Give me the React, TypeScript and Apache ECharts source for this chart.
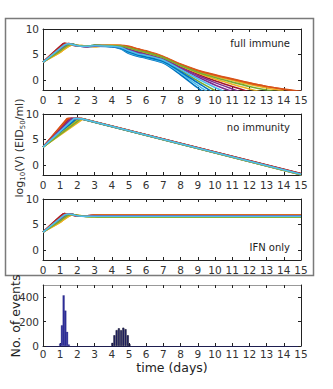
import React, { useEffect, useRef } from "react";
import * as echarts from "echarts";

const COLORS = ["#0072BD", "#D95319", "#EDB120", "#7E2F8E", "#77AC30", "#4DBEEE", "#A2142F"];

const X_TICKS = [0, 1, 2, 3, 4, 5, 6, 7, 8, 9, 10, 11, 12, 13, 14, 15];
const Y_TICKS_V = [0, 5, 10];
const Y_TICKS_H = [0, 200, 400];

// Panel 1: full immune
const T1 = [0, 1, 1.25, 1.5, 1.75, 2, 2.5, 3, 4, 4.5, 5, 5.5, 6, 7, 8, 9, 10, 11, 12, 13, 14, 15];
const FULL = [
  [3.5, 6.0, 6.65, 7.05, 6.95, 6.7, 6.5, 6.6, 6.5, 6.1, 5.2, 4.65, 4.25, 3.3, 1.0, -1.6, -4.0],
  [3.5, 6.6, 7.2, 7.05, 6.8, 6.65, 6.6, 6.7, 6.8, 6.8, 6.6, 6.1, 5.7, 4.6, 3.1, 1.9, 1.0, 0.2, -0.6, -1.3, -1.8, -2.3],
  [3.5, 5.4, 6.05, 6.6, 6.9, 6.8, 6.65, 6.5, 6.8, 6.75, 6.4, 5.95, 5.5, 4.45, 2.95, 1.7, 0.7, -0.1, -0.9, -1.6, -2.2],
  [3.5, 6.3, 6.95, 7.15, 6.9, 6.7, 6.55, 6.75, 6.7, 6.5, 5.8, 5.3, 4.9, 3.95, 2.25, 0.55, -1.0, -2.3],
  [3.5, 5.7, 6.35, 6.85, 7.0, 6.75, 6.6, 6.8, 6.7, 6.35, 5.55, 5.0, 4.65, 3.75, 1.85, -0.2, -2.1],
  [3.5, 6.0, 6.65, 7.0, 6.9, 6.7, 6.55, 6.6, 6.6, 6.2, 5.35, 4.8, 4.4, 3.45, 1.35, -1.1, -3.3],
  [3.5, 6.6, 7.2, 7.05, 6.8, 6.65, 6.6, 6.7, 6.7, 6.6, 6.05, 5.6, 5.15, 4.15, 2.55, 1.1, -0.2, -1.3, -2.4],
  [3.5, 5.7, 6.35, 6.85, 7.0, 6.75, 6.6, 6.8, 6.5, 6.25, 5.45, 4.9, 4.5, 3.6, 1.6, -0.6, -2.7],
  [3.5, 6.3, 6.95, 7.15, 6.9, 6.7, 6.55, 6.75, 6.8, 6.75, 6.5, 6.05, 5.6, 4.5, 3.0, 1.8, 0.9, 0.1, -0.65, -1.3, -1.9, -2.3],
  [3.5, 5.4, 6.05, 6.6, 6.9, 6.8, 6.65, 6.5, 6.8, 6.65, 6.2, 5.7, 5.3, 4.25, 2.7, 1.35, 0.15, -0.85, -1.8, -2.6],
  [3.5, 6.0, 6.65, 7.05, 6.95, 6.7, 6.5, 6.6, 6.6, 6.5, 5.95, 5.45, 5.0, 4.05, 2.4, 0.85, -0.55, -1.8, -3.0],
  [3.5, 5.7, 6.35, 6.85, 7.0, 6.75, 6.6, 6.8, 6.7, 6.65, 6.3, 5.8, 5.4, 4.35, 2.8, 1.5, 0.45, -0.45, -1.3, -2.0, -2.6],
  [3.5, 6.2, 6.85, 7.1, 6.9, 6.7, 6.6, 6.7, 6.6, 6.4, 5.7, 5.15, 4.8, 3.85, 2.05, 0.2, -1.5, -3.0],
];

// Panel 2: no immunity  ([time, log10 V] pairs)
const NOIMM = [
  [[0, 3.5], [1.85, 9.1], [2.25, 9.05], [15, -1.85]],
  [[0, 3.5], [1.4, 9.1], [2.25, 9.1], [15, -1.75]],
  [[0, 3.5], [2.3, 8.95], [15, -1.95]],
  [[0, 3.5], [1.6, 9.1], [2.25, 9.05], [15, -1.8]],
  [[0, 3.5], [2.05, 9.1], [2.25, 9.0], [15, -1.9]],
  [[0, 3.5], [1.75, 9.1], [2.25, 9.05], [15, -1.85]],
  [[0, 3.5], [1.5, 9.1], [2.25, 9.1], [15, -1.7]],
  [[0, 3.5], [1.95, 9.1], [2.25, 9.0], [15, -1.95]],
  [[0, 3.5], [1.45, 9.1], [2.25, 9.1], [15, -1.75]],
  [[0, 3.5], [2.15, 9.05], [2.3, 9.0], [15, -1.95]],
  [[0, 3.5], [1.65, 9.1], [2.25, 9.05], [15, -1.8]],
  [[0, 3.5], [2.2, 9.05], [2.3, 9.0], [15, -1.9]],
  [[0, 3.5], [1.8, 9.1], [2.25, 9.05], [15, -1.85]],
];

// Panel 3: IFN only
const T3 = [0, 1, 1.25, 1.5, 1.75, 2, 2.5, 3, 3.5, 4, 15];
const IFN = [
  [3.5, 6.0, 6.65, 7.05, 6.95, 6.7, 6.55, 6.65, 6.6, 6.6, 6.6],
  [3.5, 6.6, 7.15, 7.0, 6.8, 6.65, 6.7, 6.85, 6.85, 6.85, 6.85],
  [3.5, 5.4, 6.05, 6.6, 6.9, 6.8, 6.6, 6.5, 6.5, 6.5, 6.5],
  [3.5, 6.3, 6.95, 7.1, 6.9, 6.7, 6.6, 6.75, 6.7, 6.7, 6.7],
  [3.5, 5.7, 6.35, 6.85, 6.95, 6.75, 6.55, 6.5, 6.45, 6.45, 6.45],
  [3.5, 6.0, 6.65, 7.0, 6.9, 6.7, 6.6, 6.6, 6.6, 6.6, 6.6],
  [3.5, 6.6, 7.15, 7.0, 6.8, 6.65, 6.7, 6.8, 6.8, 6.8, 6.8],
  [3.5, 5.7, 6.35, 6.85, 6.95, 6.75, 6.6, 6.65, 6.65, 6.65, 6.65],
  [3.5, 6.3, 6.95, 7.1, 6.9, 6.7, 6.65, 6.85, 6.9, 6.9, 6.9],
  [3.5, 5.4, 6.05, 6.6, 6.9, 6.8, 6.65, 6.75, 6.75, 6.75, 6.75],
  [3.5, 6.0, 6.65, 7.05, 6.95, 6.7, 6.6, 6.7, 6.7, 6.7, 6.7],
  [3.5, 5.7, 6.35, 6.85, 6.95, 6.75, 6.55, 6.5, 6.5, 6.5, 6.5],
  [3.5, 6.2, 6.85, 7.05, 6.9, 6.7, 6.6, 6.6, 6.6, 6.6, 6.6],
];

// Panel 4: histogram of events
const HIST1_T = [1.0, 1.1, 1.2, 1.3, 1.4, 1.5];
const HIST1_N = [20, 170, 415, 290, 115, 12];
const HIST2_T = [4.03, 4.15, 4.28, 4.41, 4.54, 4.67, 4.8, 4.93, 5.03];
const HIST2_N = [25, 88, 130, 145, 130, 150, 138, 88, 15];

const FONT = "DejaVu Sans";
const AX = "#222";

export default function App() {
  const ref = useRef<HTMLDivElement>(null);
  useEffect(() => {
    if (!ref.current) return;
    const chart = echarts.init(ref.current, null, { renderer: "svg" });

    const grids = [
      { left: 43, width: 258, top: 29, height: 61 },
      { left: 43, width: 258, top: 114, height: 61 },
      { left: 43, width: 258, top: 199, height: 61 },
      { left: 43, width: 258, top: 285, height: 61 },
    ];

    const xAxes: any[] = [];
    const yAxes: any[] = [];
    grids.forEach((_, gi) => {
      const isHist = gi === 3;
      xAxes.push({
        type: "value", gridIndex: gi, min: 0, max: 15, interval: 1, position: "bottom",
        axisLine: { onZero: false, lineStyle: { color: isHist ? "#1e1e50" : AX, width: 1 } },
        axisTick: { inside: true, length: 3, lineStyle: { color: AX } },
        axisLabel: { fontSize: 10.5, color: "#333", margin: isHist ? 2 : 4, fontFamily: FONT, customValues: X_TICKS },
        splitLine: { show: false },
      });
      xAxes.push({
        type: "value", gridIndex: gi, min: 0, max: 15, interval: 1, position: "top",
        axisLine: { onZero: false, lineStyle: { color: isHist ? "#999" : AX, width: 1 } },
        axisTick: { inside: true, length: 3, lineStyle: { color: AX } },
        axisLabel: { show: false },
        splitLine: { show: false },
      });
      const yt = isHist ? Y_TICKS_H : Y_TICKS_V;
      const yr = isHist ? { min: 0, max: 500 } : { min: -2, max: 10 };
      yAxes.push({
        type: "value", gridIndex: gi, ...yr, position: "left",
        axisLine: { onZero: false, lineStyle: { color: AX, width: 1 } },
        axisTick: { inside: true, length: 3, customValues: yt, lineStyle: { color: AX } },
        axisLabel: { fontSize: 10.5, color: "#333", margin: 4, fontFamily: FONT, customValues: yt },
        splitLine: { show: false },
      });
      yAxes.push({
        type: "value", gridIndex: gi, ...yr, position: "right",
        axisLine: { onZero: false, lineStyle: { color: AX, width: 1 } },
        axisTick: { inside: true, length: 3, customValues: yt, lineStyle: { color: AX } },
        axisLabel: { show: false },
        splitLine: { show: false },
      });
    });

    const series: any[] = [];
    const mk = (gi: number, k: number, data: number[][]) => ({
      type: "line", xAxisIndex: 2 * gi, yAxisIndex: 2 * gi, data, symbol: "none",
      smooth: 0.3, clip: true, silent: true,
      lineStyle: { width: 1.6, color: COLORS[k % COLORS.length] },
    });
    FULL.forEach((vals, k) => series.push(mk(0, k, vals.map((v, i) => [T1[i], v]))));
    NOIMM.forEach((pts, k) => series.push({ ...mk(1, k, pts), smooth: false }));
    IFN.forEach((vals, k) => series.push(mk(2, k, vals.map((v, i) => [T3[i], v]))));

    const histData = [
      ...HIST1_T.map((t, i) => ({ value: [t, HIST1_N[i]], itemStyle: { color: "#2f2f9c", borderColor: "#23237a", borderWidth: 0.3 } })),
      ...HIST2_T.map((t, i) => ({ value: [t, HIST2_N[i]], itemStyle: { color: "#26266e", borderColor: "#0a0a20", borderWidth: 0.5 } })),
    ];
    series.push({
      type: "bar", xAxisIndex: 6, yAxisIndex: 6, data: histData, barWidth: 2, silent: true,
    });

    const txt = (x: number, y: number, text: string, size: number, align = "right") => ({
      type: "text", x, y,
      style: { text, fontSize: size, fontFamily: FONT, fill: "#222", textAlign: align, textVerticalAlign: "middle" },
    });

    chart.setOption({
      animation: false,
      grid: grids,
      xAxis: xAxes,
      yAxis: yAxes,
      series,
      graphic: [
        { type: "rect", shape: { x: 5.5, y: 18.5, width: 308, height: 257 }, style: { fill: "none", stroke: "#7a7a7a", lineWidth: 1.5 }, silent: true },
        txt(290, 43, "full immune", 10),
        txt(290, 127, "no immunity", 10),
        txt(290, 247, "IFN only", 10),
        {
          type: "text", x: 19, y: 148, rotation: Math.PI / 2,
          style: {
            text: "{a|log}{s|10}{a|(V) (EID}{s|50}{a|/ml)}",
            textAlign: "center", textVerticalAlign: "middle",
            rich: {
              a: { fontSize: 11, fontFamily: FONT, fill: "#333", lineHeight: 14, verticalAlign: "middle" },
              s: { fontSize: 7, fontFamily: FONT, fill: "#333", lineHeight: 7, verticalAlign: "bottom" },
            },
          },
        },
        {
          type: "text", x: 15, y: 316, rotation: Math.PI / 2,
          style: { text: "No. of events", fontSize: 12.5, fontFamily: FONT, fill: "#222", textAlign: "center", textVerticalAlign: "middle" },
        },
        txt(172, 367, "time (days)", 12.5, "center"),
      ],
    });
    return () => chart.dispose();
  }, []);
  return <div ref={ref} style={{ position: "absolute", left: 0, top: 0, width: 333, height: 389 }} />;
}
